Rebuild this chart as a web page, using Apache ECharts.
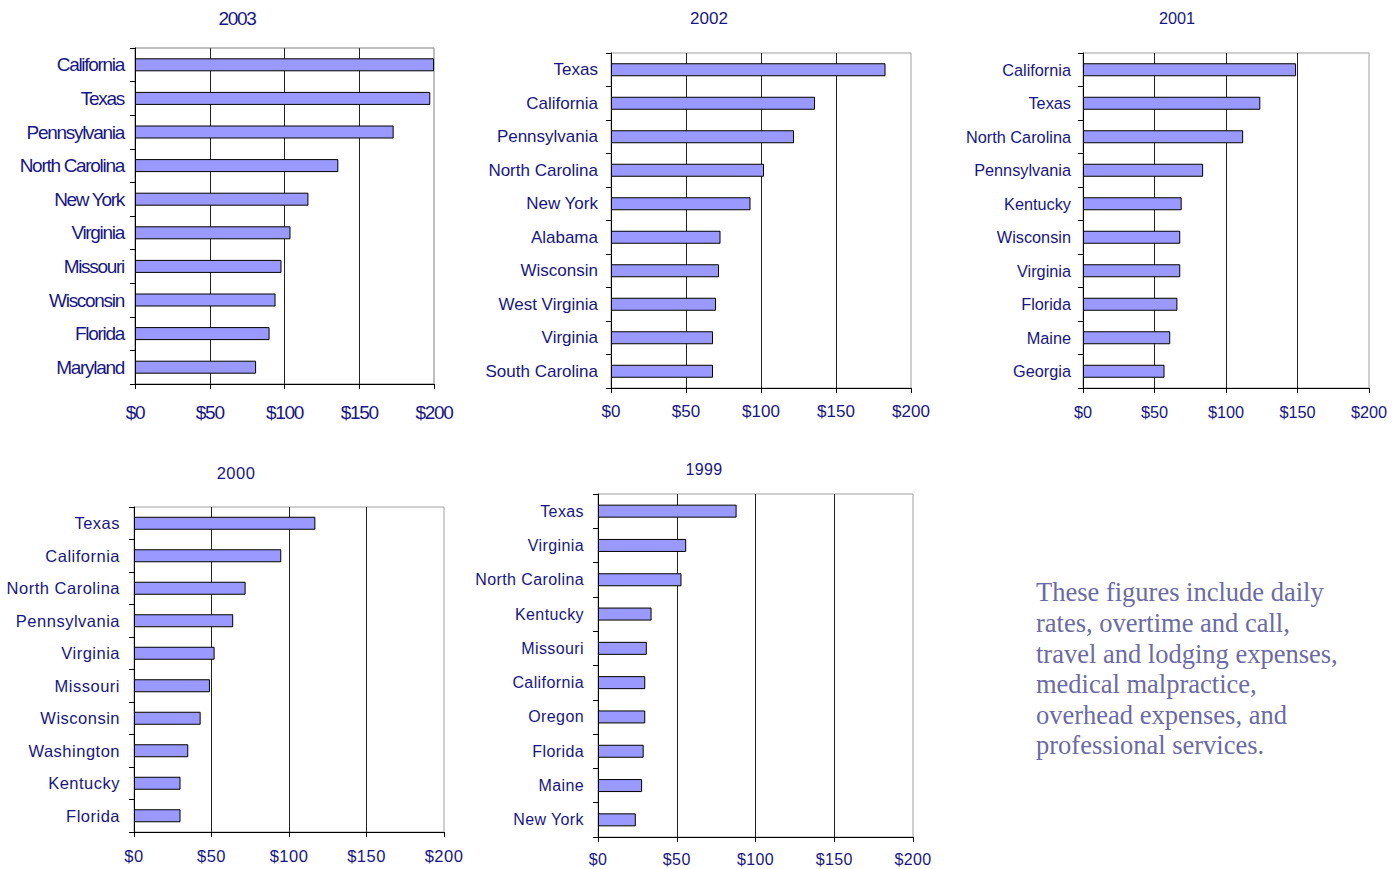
<!DOCTYPE html>
<html>
<head>
<meta charset="utf-8">
<script src="https://cdn.jsdelivr.net/npm/echarts@6/dist/echarts.min.js"></script>
<style>
html,body{margin:0;padding:0;background:#fff;}
#chart{width:1393px;height:869px;}
#chart text[style*="TightMark"]{letter-spacing:-1.3px;}
#chart text[style*="LooseMark"]{letter-spacing:0.5px;}
#chart text[style*="AiryMark"]{letter-spacing:0.4px;}
</style>
</head>
<body>
<div id="chart"></div>
<script>
// ---- data ----
const years = ['2003', '2002', '2001', '2000', '1999'];

const cats2003 = ['California', 'Texas', 'Pennsylvania', 'North Carolina', 'New York', 'Virginia', 'Missouri', 'Wisconsin', 'Florida', 'Maryland'];
const vals2003 = [200, 197.5, 173, 136, 116, 104, 98, 94, 90, 81];

const cats2002 = ['Texas', 'California', 'Pennsylvania', 'North Carolina', 'New York', 'Alabama', 'Wisconsin', 'West Virginia', 'Virginia', 'South Carolina'];
const vals2002 = [183, 136, 122, 102, 93, 73, 72, 70, 68, 68];

const cats2001 = ['California', 'Texas', 'North Carolina', 'Pennsylvania', 'Kentucky', 'Wisconsin', 'Virginia', 'Florida', 'Maine', 'Georgia'];
const vals2001 = [149, 124, 112, 84, 69, 68, 68, 66, 61, 57];

const cats2000 = ['Texas', 'California', 'North Carolina', 'Pennsylvania', 'Virginia', 'Missouri', 'Wisconsin', 'Washington', 'Kentucky', 'Florida'];
const vals2000 = [117, 95, 72, 64, 52, 49, 43, 35, 30, 30];

const cats1999 = ['Texas', 'Virginia', 'North Carolina', 'Kentucky', 'Missouri', 'California', 'Oregon', 'Florida', 'Maine', 'New York'];
const vals1999 = [88, 56, 53, 34, 31, 30, 30, 29, 28, 24];

const xMin = 0, xMax = 200, xStep = 50;

const noteLines = [
  'These figures include daily',
  'rates, overtime and call,',
  'travel and lodging expenses,',
  'medical malpractice,',
  'overhead expenses, and',
  'professional services.'
];

// ---- layout / style ----
const NAVY = '#16168a';
const panels = [
  { cats: cats2003, vals: vals2003, title: years[0], grid: {left: 135, top: 48, width: 299, height: 336}, font: '"Liberation Sans", TightMark, sans-serif', fs: 19, ylm: 11, xlm: 19, tx: 237, ty: 18, border: '#808080' },
  { cats: cats2002, vals: vals2002, title: years[1], grid: {left: 611, top: 53, width: 300, height: 335}, font: '"Liberation Sans", Arial, sans-serif', fs: 17, ylm: 13, xlm: 15, tx: 709, ty: 18, border: '#a0a0a0' },
  { cats: cats2001, vals: vals2001, title: years[2], grid: {left: 1083, top: 53, width: 286, height: 335}, font: '"Liberation Sans", Arial, sans-serif', fs: 16.3, ylm: 12, xlm: 16, tx: 1177, ty: 18, border: '#a0a0a0' },
  { cats: cats2000, vals: vals2000, title: years[3], grid: {left: 134, top: 507, width: 310, height: 325}, font: '"Liberation Sans", LooseMark, sans-serif', fs: 16.5, ylm: 14, xlm: 15, tx: 236, ty: 473, border: '#a0a0a0' },
  { cats: cats1999, vals: vals1999, title: years[4], grid: {left: 598, top: 494, width: 315, height: 343}, font: '"Liberation Sans", AiryMark, sans-serif', fs: 16, ylm: 14, xlm: 14, tx: 704, ty: 469, border: '#a0a0a0' }
];

const grid = [], xAxis = [], yAxis = [], series = [], graphic = [];
panels.forEach((p, i) => {
  grid.push(Object.assign({ show: true, borderColor: p.border, borderWidth: 1, backgroundColor: 'transparent', containLabel: false, outerBoundsMode: 'none' }, p.grid));
  xAxis.push({
    type: 'value', gridIndex: i, min: xMin, max: xMax, interval: xStep,
    axisLine: { show: true, lineStyle: { color: '#000', width: 1 } },
    axisTick: { show: true, length: 5, lineStyle: { color: '#000' } },
    axisLabel: { margin: p.xlm, color: NAVY, fontSize: p.fs, fontFamily: p.font, formatter: v => '$' + v },
    splitLine: { show: true, showMinLine: false, showMaxLine: false, lineStyle: { color: '#222', width: 1 } }
  });
  yAxis.push({
    type: 'category', gridIndex: i, data: p.cats, inverse: true,
    axisLine: { show: true, lineStyle: { color: '#000', width: 1 } },
    axisTick: { show: true, length: 5, lineStyle: { color: '#000' } },
    axisLabel: { margin: p.ylm, color: NAVY, fontSize: p.fs, fontFamily: p.font },
    splitLine: { show: false }
  });
  series.push({
    type: 'bar', xAxisIndex: i, yAxisIndex: i, data: p.vals, barWidth: 13,
    itemStyle: { color: '#9999ff', borderColor: '#000', borderWidth: 1 },
    silent: true
  });
  graphic.push({
    type: 'text', x: p.tx, y: p.ty,
    style: { text: p.title, fill: NAVY, fontSize: p.fs, fontFamily: p.font, textAlign: 'center', textVerticalAlign: 'middle' }
  });
});

graphic.push({
  type: 'text', x: 1036, y: 577,
  style: {
    text: noteLines.join('\n'), fill: '#6a6aa8',
    fontSize: 26.5, fontFamily: '"Liberation Serif", "Times New Roman", serif',
    lineHeight: 30.6, textAlign: 'left', textVerticalAlign: 'top'
  }
});

const chart = echarts.init(document.getElementById('chart'), null, { renderer: 'svg' });
chart.setOption({
  animation: false,
  backgroundColor: '#fff',
  grid, xAxis, yAxis, series, graphic
});
</script>
</body>
</html>
